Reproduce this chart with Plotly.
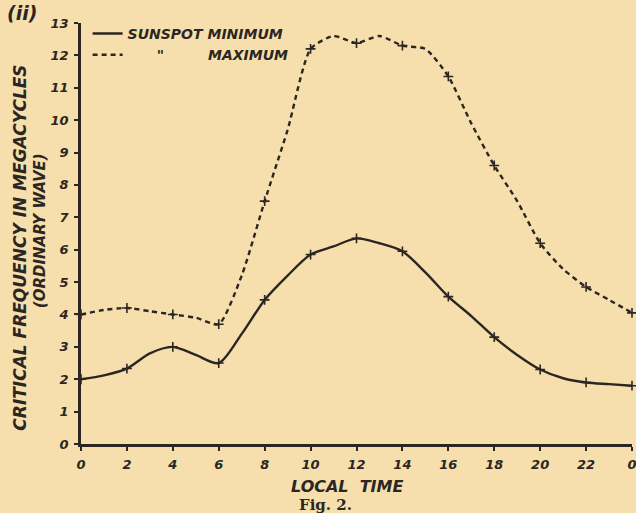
import plotly.graph_objects as go

# local time, hours
hours = list(range(0, 25))

# critical frequency, megacycles
sunspot_min = [2.0, 2.12, 2.33, 2.8, 3.0, 2.75, 2.5, 3.4, 4.45, 5.2, 5.85, 6.1, 6.35,
               6.2, 5.95, 5.3, 4.55, 3.95, 3.3, 2.75, 2.3, 2.03, 1.9, 1.85, 1.8]
sunspot_max = [4.0, 4.14, 4.2, 4.1, 4.0, 3.9, 3.7, 5.2, 7.5, 9.7, 12.2, 12.6, 12.38,
               12.6, 12.3, 12.2, 11.35, 9.9, 8.6, 7.5, 6.2, 5.4, 4.85, 4.45, 4.05]

x_ticks = list(range(0, 25, 2))
x_labels = ["0", "2", "4", "6", "8", "10", "12", "14", "16", "18", "20", "22", "0"]
y_ticks = list(range(0, 14))

INK = "#2b2622"
PAPER = "#f6dfad"
HAND = dict(family="DejaVu Sans", color=INK, weight="bold", style="italic")
NB = "\u00a0"

fig = go.Figure()

fig.add_trace(go.Scatter(
    x=hours, y=sunspot_min, mode="lines", name="SUNSPOT MINIMUM",
    line=dict(color=INK, width=2.4, shape="spline", smoothing=0.8),
    cliponaxis=False))
fig.add_trace(go.Scatter(
    x=hours, y=sunspot_max, mode="lines",
    name=NB * 6 + "\"" + NB * 9 + "MAXIMUM",
    line=dict(color=INK, width=2.4, dash="5px,4px", shape="spline",
              smoothing=0.6),
    cliponaxis=False))

# small cross marks at the plotted (even hour) points
for series in (sunspot_min, sunspot_max):
    fig.add_trace(go.Scatter(
        x=hours[::2], y=series[::2], mode="markers", showlegend=False,
        marker=dict(symbol="cross-thin", size=7,
                    line=dict(color=INK, width=1.6)),
        cliponaxis=False, hoverinfo="skip"))

fig.update_xaxes(
    range=[0, 24], tickvals=x_ticks, ticktext=x_labels, automargin=False,
    showgrid=False, zeroline=False, showline=True, linecolor=INK,
    linewidth=2.5, ticks="outside", ticklen=4, tickwidth=1.5,
    tickcolor=INK, ticklabelstandoff=3, ticklabeloverflow="allow",
    tickfont=dict(size=13, **HAND))
fig.update_yaxes(
    range=[0, 13], tickvals=y_ticks, automargin=False,
    showgrid=False, zeroline=False, showline=True, linecolor=INK,
    linewidth=2.5, ticks="outside", ticklen=4, tickwidth=1.5,
    tickcolor=INK, ticklabelstandoff=3,
    tickfont=dict(size=13, **HAND))

fig.update_layout(
    width=636, height=513,
    margin=dict(l=81, r=4, t=23, b=69),
    paper_bgcolor=PAPER, plot_bgcolor=PAPER,
    showlegend=True,
    legend=dict(x=0.012, y=1.012, xanchor="left", yanchor="top",
                bgcolor="rgba(0,0,0,0)", tracegroupgap=0,
                font=dict(size=14, **HAND)),
    annotations=[
        dict(text="(ii)", x=-0.107, y=1.024, xref="paper", yref="paper",
             showarrow=False, xanchor="center", yanchor="middle",
             font=dict(size=19, **HAND)),
        dict(text="CRITICAL FREQUENCY IN MEGACYCLES", x=-0.111, y=0.466,
             xref="paper", yref="paper", showarrow=False, textangle=-90,
             xanchor="center", yanchor="middle",
             font=dict(size=17, **HAND)),
        dict(text="(ORDINARY WAVE)", x=-0.074, y=0.506,
             xref="paper", yref="paper", showarrow=False, textangle=-90,
             xanchor="center", yanchor="middle",
             font=dict(size=15, **HAND)),
        dict(text="LOCAL" + NB * 2 + "TIME", x=0.483, y=-0.102,
             xref="paper", yref="paper", showarrow=False,
             xanchor="center", yanchor="middle",
             font=dict(size=16, **HAND)),
        dict(text="<b>Fig. 2.</b>", x=0.443, y=-0.146, xref="paper",
             yref="paper", showarrow=False, xanchor="center",
             yanchor="middle",
             font=dict(size=15, family="DejaVu Serif", color=INK)),
    ],
)

fig.write_html(
    "out.html",
    config=dict(displayModeBar=False),
    post_script="document.body.style.margin='0';"
                "document.body.style.overflow='hidden';")
